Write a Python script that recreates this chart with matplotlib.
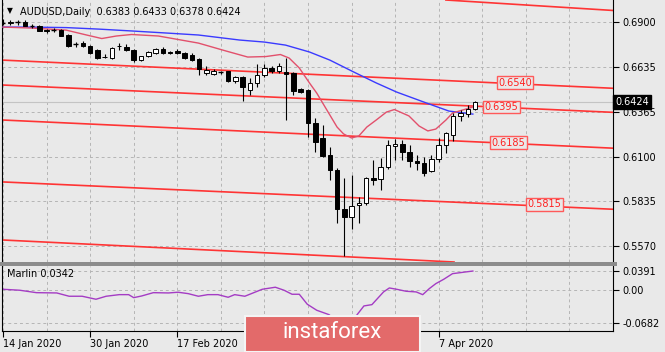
import numpy as np
import matplotlib
matplotlib.use("Agg")
import matplotlib.pyplot as plt
from matplotlib.patches import Rectangle
import matplotlib.transforms as mtransforms

# ---------------------------------------------------------------------------
# Datos (AUDUSD diario, 14 ene – 14 abr 2020)
# ---------------------------------------------------------------------------
opens = [0.6897, 0.6895, 0.6898, 0.6902, 0.6878, 0.6878, 0.6852, 0.6849, 0.6853, 0.6823,
         0.6766, 0.6775, 0.6755, 0.6731, 0.6693, 0.6686, 0.6757, 0.6751, 0.6735, 0.6676,
         0.6697, 0.6716, 0.6741, 0.6722, 0.6729, 0.6716, 0.6706, 0.6680, 0.6595, 0.6592,
         0.6604, 0.6607, 0.6548, 0.6572, 0.6496, 0.6539, 0.6585, 0.6625, 0.6611, 0.6601,
         0.6595, 0.6500, 0.6496, 0.6302, 0.6209, 0.6110, 0.6021, 0.5787, 0.5740, 0.5813,
         0.5827, 0.5971, 0.5966, 0.6040, 0.6163, 0.6175, 0.6130, 0.6076, 0.6064, 0.6017,
         0.6084, 0.6169, 0.6229, 0.6342, 0.6354, 0.6383]
highs = [0.6916, 0.6912, 0.6912, 0.6912, 0.6888, 0.6885, 0.6858, 0.6862, 0.6858, 0.6828,
         0.6783, 0.6790, 0.6762, 0.6738, 0.6710, 0.6750, 0.6777, 0.6770, 0.6740, 0.6700,
         0.6728, 0.6745, 0.6750, 0.6728, 0.6738, 0.6722, 0.6718, 0.6685, 0.6637, 0.6620,
         0.6612, 0.6612, 0.6580, 0.6579, 0.6567, 0.6651, 0.6651, 0.6639, 0.6658, 0.6684,
         0.6603, 0.6510, 0.6502, 0.6330, 0.6288, 0.6159, 0.6033, 0.5973, 0.5991, 0.5862,
         0.5981, 0.6080, 0.6092, 0.6199, 0.6205, 0.6199, 0.6169, 0.6110, 0.6100, 0.6110,
         0.6209, 0.6248, 0.6358, 0.6377, 0.6407, 0.6433]
lows = [0.6880, 0.6882, 0.6885, 0.6874, 0.6862, 0.6845, 0.6836, 0.6838, 0.6815, 0.6750,
        0.6752, 0.6752, 0.6710, 0.6682, 0.6688, 0.6683, 0.6735, 0.6725, 0.6665, 0.6668,
        0.6690, 0.6710, 0.6712, 0.6710, 0.6712, 0.6683, 0.6670, 0.6588, 0.6588, 0.6588,
        0.6590, 0.6545, 0.6540, 0.6433, 0.6466, 0.6516, 0.6575, 0.6597, 0.6595, 0.6318,
        0.6466, 0.6476, 0.6219, 0.6130, 0.6100, 0.5961, 0.5706, 0.5510, 0.5670, 0.5706,
        0.5813, 0.5932, 0.5902, 0.6027, 0.6080, 0.6080, 0.6039, 0.6021, 0.5985, 0.6011,
        0.6070, 0.6122, 0.6195, 0.6314, 0.6337, 0.6378]
closes = [0.6895, 0.6898, 0.6900, 0.6878, 0.6876, 0.6849, 0.6849, 0.6851, 0.6819, 0.6759,
          0.6768, 0.6760, 0.6716, 0.6686, 0.6690, 0.6745, 0.6760, 0.6731, 0.6672, 0.6696,
          0.6722, 0.6739, 0.6719, 0.6716, 0.6719, 0.6686, 0.6676, 0.6621, 0.6613, 0.6611,
          0.6603, 0.6548, 0.6574, 0.6512, 0.6536, 0.6585, 0.6625, 0.6611, 0.6640, 0.6591,
          0.6490, 0.6486, 0.6302, 0.6189, 0.6104, 0.6021, 0.5787, 0.5740, 0.5807, 0.5827,
          0.5971, 0.5961, 0.6040, 0.6169, 0.6175, 0.6130, 0.6076, 0.6061, 0.6005, 0.6086,
          0.6169, 0.6239, 0.6342, 0.6358, 0.6381, 0.6424]

# media móvil corta (rosa) y larga (azul): posición de barra, precio
ma_fast_x = [0, 4, 8.7, 11.5, 13.6, 15.6, 17.7, 21.4, 26.9, 30.7, 33.7, 36.2, 38.2, 39.4,
             40.8, 42.2, 43.2, 44.6, 46, 46.9, 48, 49, 50.1, 51.4, 52.8, 53.9, 55.9, 57.3,
             58.5, 59.6, 61, 61.9, 62.8, 64.7]
ma_fast_y = [0.6870, 0.6864, 0.6852, 0.6823, 0.6802, 0.6817, 0.6826, 0.6817, 0.6775, 0.6728,
             0.6692, 0.6695, 0.6707, 0.6686, 0.6627, 0.6538, 0.6478, 0.6377, 0.6276, 0.6235,
             0.6211, 0.6223, 0.6276, 0.6318, 0.6365, 0.6380, 0.6342, 0.6282, 0.6253, 0.6264,
             0.6318, 0.6359, 0.6371, 0.6395]
ma_slow_x = [0, 4, 8.7, 13.2, 17.7, 22.4, 26.9, 32.6, 36, 38.9, 42.2, 45, 48.3, 51.4, 54.2,
             58.3, 61.4, 64.7]
ma_slow_y = [0.6870, 0.6870, 0.6867, 0.6858, 0.6847, 0.6835, 0.6823, 0.6793, 0.6781, 0.6763,
             0.6722, 0.6674, 0.6603, 0.6538, 0.6484, 0.6419, 0.6371, 0.6353]

# líneas del canal: dos puntos (barra, precio) por línea
canal = [((62.1, 0.7028), (83.2, 0.6971)),
         ((-0.14, 0.6674), (83.2, 0.6508)),
         ((-0.14, 0.6526), (83.2, 0.6365)),
         ((-0.14, 0.6318), (83.2, 0.6152)),
         ((-0.14, 0.5950), (83.2, 0.5789)),
         ((-0.14, 0.5605), (45.0, 0.5510))]
niveles_txt = ["0.6540", "0.6395", "0.6185", "0.5815"]
niveles_x = [70.5, 68.6, 69.6, 74.6]
niveles_y = [0.6540, 0.6395, 0.6182, 0.5816]

precio_ticks = [0.6900, 0.6635, 0.6365, 0.6100, 0.5835, 0.5570]
fechas_pos = [0, 12, 24, 36, 48, 60]
fechas_txt = ["14 Jan 2020", "30 Jan 2020", "17 Feb 2020", "", "", "7 Apr 2020"]

# indicador Marlin
marlin_x = [0, 2.3, 4.6, 7.4, 9.1, 10.9, 12.8, 14.2, 16, 17.3, 18, 19.1, 20.7, 22.8, 24.1,
            25.5, 26.9, 28.2, 29.6, 31, 31.9, 33.3, 35.7, 37.5, 38.7, 39.8, 40.8, 41.9, 43.2,
            44.9, 45.6, 46.7, 47.7, 48.7, 49.7, 50.8, 52.4, 53.2, 54.2, 55.5, 56.9, 57.8,
            58.7, 59.6, 60.7, 61.9, 63.7, 64.7]
marlin_y = [0.0014, -0.0006, -0.0056, -0.0062, -0.0130, -0.0130, -0.0192, -0.0130, -0.0097,
            -0.0097, -0.0159, -0.0124, -0.0056, -0.0062, -0.0047, -0.0076, -0.0130, -0.0097,
            -0.0097, -0.0151, -0.0097, -0.0130, 0.0014, 0.0056, -0.0006, -0.0089, -0.0089,
            -0.0295, -0.0419, -0.0510, -0.0604, -0.0701, -0.0646, -0.0522, -0.0330, -0.0303,
            -0.0041, 0.0041, 0.0014, -0.0027, -0.0041, -0.0097, 0.0027, 0.0130, 0.0221,
            0.0336, 0.0371, 0.0390]
marlin_ticks = [0.0391, 0.0, -0.0682]
marlin_lbl = ["0.0391", "0.00", "-0.0682"]

# ---------------------------------------------------------------------------
W, H = 665, 352
BG = "#e9e9e9"
GRID = "#b5b5b5"
FS = 7

fig = plt.figure(figsize=(W / 100, H / 100), dpi=100, facecolor=BG)

def fx(px):
    return px / W

def fy(py):
    return 1 - py / H

ax = fig.add_axes([fx(2), fy(262), 611 / W, 262 / H], facecolor=BG)
sub = fig.add_axes([fx(2), fy(331), 611 / W, 65 / H], facecolor=BG)

x_lim = (-0.14, 83.2)

# --- gráfico principal ---
for i in range(len(opens)):
    o, h, l, c = opens[i], highs[i], lows[i], closes[i]
    ax.vlines(i, l, h, color="black", lw=0.8, zorder=4)
    if abs(c - o) < 0.00025:
        ax.hlines(c, i - 0.33, i + 0.33, color="black", lw=1.0, zorder=5)
    else:
        fc = "white" if c > o else "black"
        ax.add_patch(Rectangle((i - 0.31, min(o, c)), 0.62, abs(c - o),
                               facecolor=fc, edgecolor="black", lw=0.7, zorder=5))

ax.plot(ma_slow_x, ma_slow_y, color="#3a3aff", lw=1.0, zorder=3)
ax.plot(ma_fast_x, ma_fast_y, color="#e2506c", lw=1.0, zorder=3)

for p1, p2 in canal:
    ax.axline(p1, p2, color="#ff3434", lw=1.2, zorder=2)

for t, xx, yy in zip(niveles_txt, niveles_x, niveles_y):
    ax.text(xx, yy, t, color="#ff2020", fontsize=FS, ha="center", va="center", zorder=6,
            bbox=dict(boxstyle="square,pad=0.15", facecolor=BG, edgecolor="#ff5a5a", lw=1))

# línea de precio actual
ax.axhline(closes[-1], color="#c4c4c4", lw=0.8, zorder=1)

ax.set_xlim(*x_lim)
ax.set_ylim(0.5474, 0.7031)
ax.yaxis.tick_right()
ax.set_yticks(precio_ticks)
ax.set_yticklabels([f"{v:.4f}" for v in precio_ticks])
ax.set_xticks(range(0, 85, 6))
ax.tick_params(axis="x", length=0, labelbottom=False)
ax.tick_params(axis="y", direction="out", length=4, width=0.8, labelsize=FS, pad=3,
               colors="black")
ax.grid(True, color=GRID, ls=(0, (3, 3)), lw=0.7)
ax.set_axisbelow(True)
for s in ["top", "bottom"]:
    ax.spines[s].set_visible(False)
ax.spines["left"].set_color("black")
ax.spines["right"].set_color("black")

trans = mtransforms.blended_transform_factory(ax.transAxes, ax.transData)
ax.text(1.004, closes[-1], f"{closes[-1]:.4f}", transform=trans, color="white",
        fontsize=FS, ha="left", va="center", zorder=10, clip_on=False,
        bbox=dict(boxstyle="square,pad=0.2", facecolor="black", edgecolor="black"))

# --- subventana Marlin ---
sub.plot(marlin_x, marlin_y, color="#a43cc4", lw=1.0)
sub.set_xlim(*x_lim)
sub.set_ylim(-0.0847, 0.0494)
sub.yaxis.tick_right()
sub.set_yticks(marlin_ticks)
sub.set_yticklabels(marlin_lbl)
sub.set_xticks(range(0, 85, 6), minor=True)
sub.set_xticks(fechas_pos)
sub.set_xticklabels(fechas_txt)
for lbl in sub.get_xticklabels():
    lbl.set_ha("left")
sub.tick_params(axis="x", which="major", direction="out", length=4, labelsize=FS, pad=2)
sub.tick_params(axis="x", which="minor", length=0)
sub.tick_params(axis="y", direction="out", length=4, labelsize=FS, pad=3)
sub.grid(True, which="both", axis="x", color=GRID, ls=(0, (3, 3)), lw=0.7)
sub.grid(True, axis="y", color=GRID, ls=(0, (3, 3)), lw=0.7)
sub.spines["top"].set_visible(False)
sub.text(0.008, 0.88, "Marlin 0.0342", transform=sub.transAxes, fontsize=FS,
         ha="left", va="center")

# separador entre ventanas
fig.patches.append(Rectangle((0, fy(266)), fx(617), 4 / H, transform=fig.transFigure,
                             facecolor="#8c8c8c", edgecolor="none", zorder=5))

# cabecera
fig.text(fx(7), fy(11), "\u25bc", fontsize=5.5, ha="left", va="center")
fig.text(fx(20), fy(12), "AUDUSD,Daily  0.6383 0.6433 0.6378 0.6424", fontsize=FS,
         ha="left", va="center")

# logotipo
fig.patches.append(Rectangle((fx(245), fy(352)), (420 - 245) / W, 36 / H,
                             transform=fig.transFigure, facecolor="#e36a6a",
                             edgecolor="#f4f4f4", lw=1.5, zorder=20))
fig.text(fx(332), fy(333), "instaforex", color="white", fontsize=16, ha="center",
         va="center", family="Roboto", zorder=21)

fig.savefig("out.png", dpi=100, facecolor=BG)
